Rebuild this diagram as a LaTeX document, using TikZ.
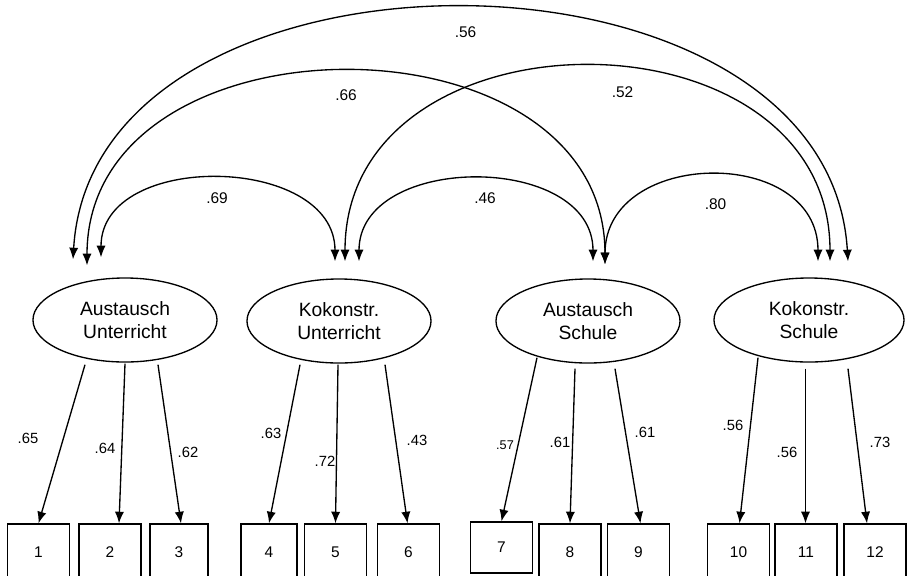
\documentclass[tikz,border=0pt]{standalone}
\usepackage{fontspec}
\setmainfont{Liberation Sans}
\usetikzlibrary{arrows.meta,shapes.geometric}

\begin{document}
\begin{tikzpicture}[
x=0.025cm, y=-0.025cm,
latent/.style={draw, ellipse, line width=0.95pt, align=center, minimum width=4.6cm, minimum height=2.1cm, font=\fontsize{13.7}{16.5}\selectfont},
indicator/.style={draw, line width=0.95pt, minimum width=1.55cm, minimum height=1.4cm, font=\fontsize{11}{13}\selectfont},
arrow/.style={-{Latex[length=2.9mm, width=2.3mm]}, line width=0.95pt},
covarrow/.style={{Latex[length=2.9mm, width=2.3mm]}-{Latex[length=2.9mm, width=2.3mm]}, line width=0.95pt},
lbl/.style={font=\fontsize{10.5}{12}\selectfont, inner sep=1pt},
covlbl/.style={font=\fontsize{11}{13}\selectfont, inner sep=1pt}
]
\useasboundingbox (0,0) rectangle (907,575);

% latent factors
\node[latent] (e1) at (125,320) {Austausch\\Unterricht};
\node[latent] (e2) at (339,321) {Kokonstr.\\Unterricht};
\node[latent] (e3) at (588,321) {Austausch\\Schule};
\node[latent, minimum width=4.75cm] (e4) at (809,320) {Kokonstr.\\Schule};

% items
\node[indicator] (b1) at (38.5,552) {1};
\node[indicator] (b2) at (110,552) {2};
\node[indicator, minimum width=1.45cm] (b3) at (179,552) {3};
\node[indicator, minimum width=1.4cm] (b4) at (269,552) {4};
\node[indicator] (b5) at (335.5,552) {5};
\node[indicator] (b6) at (408.5,552) {6};
\node[indicator, minimum height=1.275cm] (b7) at (501.5,547.5) {7};
\node[indicator] (b8) at (570,552) {8};
\node[indicator] (b9) at (638.5,552) {9};
\node[indicator] (b10) at (738.5,552) {10};
\node[indicator] (b11) at (806,552) {11};
\node[indicator] (b12) at (875,552) {12};

% loadings
\draw[arrow] ([shift={(-40,2)}]e1.south) -- (b1.north);
\draw[arrow] ([shift={(0,1)}]e1.south) -- ([shift={(9,0)}]b2.north);
\draw[arrow] ([shift={(33,2)}]e1.south) -- ([shift={(2,0)}]b3.north);
\draw[arrow] ([shift={(-39,1)}]e2.south) -- (b4.north);
\draw[arrow] ([shift={(-1,1)}]e2.south) -- (b5.north);
\draw[arrow] ([shift={(46,1)}]e2.south) -- ([shift={(-1,0)}]b6.north);
\draw[arrow] ([shift={(-51,-6)}]e3.south) -- (b7.north);
\draw[arrow] ([shift={(-13,5)}]e3.south) -- (b8.north);
\draw[arrow] ([shift={(27,5)}]e3.south) -- ([shift={(2,0)}]b9.north);
\draw[arrow] ([shift={(-51,-5)}]e4.south) -- ([shift={(1,0)}]b10.north);
\draw[arrow] ([shift={(-3.5,6)}]e4.south) -- ([shift={(-0.5,0)}]b11.north);
\draw[arrow] ([shift={(39,6)}]e4.south) -- ([shift={(-8,0)}]b12.north);

\node[lbl] (l1) at (28,438) {.65};
\node[lbl] (l2) at (105,448) {.64};
\node[lbl] (l3) at (188,452) {.62};
\node[lbl] (l4) at (271,433) {.63};
\node[lbl] (l5) at (325,461) {.72};
\node[lbl] (l6) at (417,440) {.43};
\node[lbl, font=\fontsize{9}{11}\selectfont] (l7) at (505,445) {.57};
\node[lbl] (l8) at (560,442) {.61};
\node[lbl] (l9) at (645,432) {.61};
\node[lbl] (l10) at (733,425) {.56};
\node[lbl] (l11) at (787,452) {.56};
\node[lbl] (l12) at (880,442) {.73};

% correlations
\draw[covarrow] ([shift={(-24,-20)}]e1.north) .. controls +(0,-107) and +(0,-107) .. ([shift={(-4,-17)}]e2.north)
  node[covlbl, pos=0.5, shift={(-1,19)}] {.69};
\draw[covarrow] ([shift={(20,-17)}]e2.north) .. controls +(0,-109) and +(0,-109) .. ([shift={(5,-17)}]e3.north)
  node[covlbl, pos=0.5, shift={(9,19)}] {.46};
\draw[covarrow] ([shift={(17,-14)}]e3.north) .. controls +(0,-116) and +(0,-116) .. ([shift={(9,-16)}]e4.north)
  node[covlbl, pos=0.5, shift={(4,28)}] {.80};
\draw[covarrow] ([shift={(-38,-12)}]e1.north) .. controls +(0,-257) and +(0,-257) .. ([shift={(17,-14)}]e3.north)
  node[covlbl, pos=0.5, shift={(0,23)}] {.66};
\draw[covarrow] ([shift={(6,-17)}]e2.north) .. controls +(0,-259) and +(0,-259) .. ([shift={(21,-16)}]e4.north)
  node[covlbl, pos=0.5, shift={(35,25)}] {.52};
\draw[covarrow] ([shift={(-52,-18)}]e1.north) .. controls +(20,-336) and +(-20,-336) .. ([shift={(39,-16)}]e4.north)
  node[covlbl, pos=0.5, shift={(5,24)}] {.56};
\end{tikzpicture}
\end{document}
